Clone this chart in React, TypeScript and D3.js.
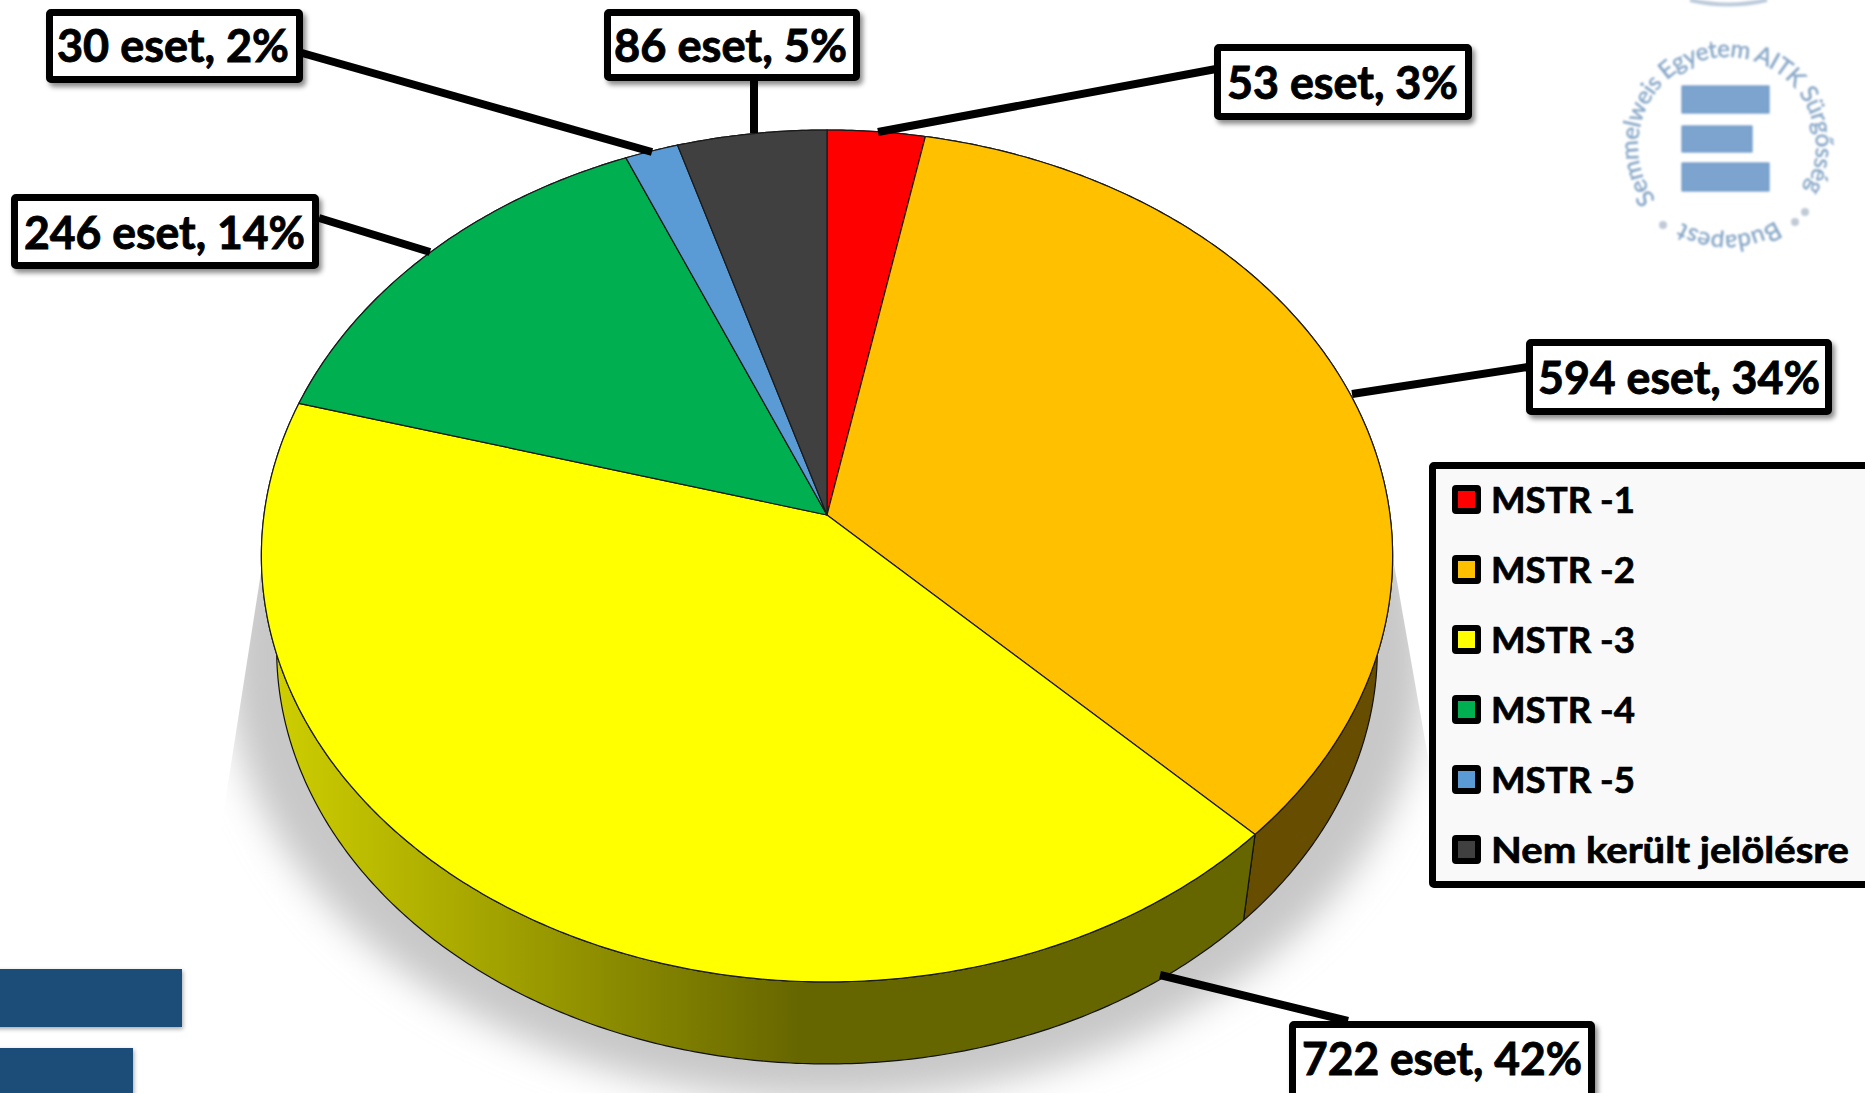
import React, { useEffect } from "react";
import * as d3 from "d3";

// ---- data ----
const categories = ["MSTR -1", "MSTR -2", "MSTR -3", "MSTR -4", "MSTR -5", "Nem került jelölésre"];
const caseCounts = [53, 594, 722, 246, 30, 86];
const percents = [3, 34, 42, 14, 2, 5];
// wedge sizes as measured on the drawn pie (same total as the case counts)
const wedgeShares = [53, 595.5, 725.5, 247, 29, 81];
const sliceColors = ["#ff0000", "#ffc000", "#ffff00", "#00b050", "#5b9bd5", "#404040"];
const sealText = "Semmelweis Egyetem AITK Sürgősség";
const sealTextBottom = "Budapest";

// ---- layout ----
const W = 1865, H = 1093;
const CX = 827, CY = 515;          // projected centre of the disk
const A = 563, B = 422, P = 0.0962; // perspective projection of the unit disk
const VY = 4019;                   // vanishing point of the vertical edges
const S = 0.973;                   // scale of the lower rim towards it

const project = (t: number): [number, number] => {
  const u = Math.sin(t), v = -Math.cos(t);
  const d = 1 - P * v;
  return [CX + (A * u) / d, CY + (B * v) / d];
};
const lower = ([x, y]: [number, number]): [number, number] => [CX + S * (x - CX), VY + S * (y - VY)];
const arcPts = (a: number, b: number): [number, number][] => {
  const n = Math.max(2, Math.ceil((b - a) / 0.01));
  return d3.range(n + 1).map((i) => project(a + ((b - a) * i) / n));
};
const line = d3.line();

const arcs = d3.pie<number>().sort(null).value((d) => d)(wedgeShares);

const calloutLayout = [
  { box: [1214, 44, 258, 76], text: [1227, 231, 99], lead: [[878, 132], [1216, 69]] },
  { box: [1526, 339, 306, 76], text: [1538, 282, 394], lead: [[1352, 394], [1528, 367]] },
  { box: [1289, 1021, 306, 80], text: [1302, 280, 1075], lead: [[1160, 975], [1348, 1021]] },
  { box: [11, 194, 308, 75], text: [24, 281, 249], lead: [[319, 218], [430, 252]] },
  { box: [46, 9, 257, 74], text: [57, 232, 62], lead: [[302, 53], [652, 152]] },
  { box: [604, 9, 256, 72], text: [614, 233, 62], lead: [[754, 81], [754, 133]] },
];
const legendLayout = { x: 1429, y: 462, w: 440, h: 426, mx: 1452, my: 485, ms: 29, step: 70, tx: 1491, base: 513 };
const FONT = "Lato, 'Open Sans', sans-serif";

export default function App() {
  useEffect(() => {
    document.body.style.margin = "0";
    document.body.style.overflow = "hidden";
  }, []);

  const polar = (deg: number, r: number) => {
    const t = (deg * Math.PI) / 180;
    return [1727 + r * Math.sin(t), 146 - r * Math.cos(t)];
  };
  const sealArc = (from: number, to: number, r: number) => {
    const [x0, y0] = polar(from, r), [x1, y1] = polar(to, r);
    return `M${x0},${y0}A${r},${r} 0 ${to - from > 180 ? 1 : 0} 1 ${x1},${y1}`;
  };

  return (
    <svg width={W} height={H} viewBox={`0 0 ${W} ${H}`} style={{ position: "absolute", left: 0, top: 0, display: "block", background: "#fff" }}>
      <defs>
        <filter id="shadowBlur" x="-20%" y="-20%" width="140%" height="140%"><feGaussianBlur stdDeviation="18" /></filter>
        <filter id="soft" x="-10%" y="-10%" width="120%" height="120%"><feGaussianBlur stdDeviation="0.9" /></filter>
        <filter id="barShadow" x="-10%" y="-10%" width="125%" height="130%">
          <feDropShadow dx="1" dy="2" stdDeviation="2" floodColor="#000" floodOpacity="0.35" />
        </filter>
        <filter id="boxShadow" x="-10%" y="-10%" width="125%" height="130%">
          <feDropShadow dx="3" dy="4" stdDeviation="2.5" floodColor="#000" floodOpacity="0.45" />
        </filter>
        <clipPath id="shadowClip">
          <path d="M264,553L224,809L195,1000L195,1093L1480,1093L1470,1000L1428,757L1392,553Z" />
        </clipPath>
        <linearGradient id="yellowSide" gradientUnits="userSpaceOnUse" x1={270} x2={800} y1={0} y2={0}>
          <stop offset="0" stopColor="#cfcf00" />
          <stop offset="1" stopColor="#666600" />
        </linearGradient>
      </defs>

      {/* ground shadow */}
      <g clipPath="url(#shadowClip)">
        <ellipse cx={827} cy={660} rx={600} ry={440} fill="#c8c8c8" filter="url(#shadowBlur)" />
      </g>

      {/* bottom-left logo bars */}
      <g filter="url(#barShadow)">
        <rect x={-10} y={969} width={192} height={58} fill="#1f4e79" />
        <rect x={-10} y={1048} width={143} height={55} fill="#1f4e79" />
      </g>

      {/* side walls */}
      {arcs.map((d, i) => {
        const top = arcPts(d.startAngle, d.endAngle);
        const bottom = top.map(lower).reverse();
        const fill = i === 2 ? "url(#yellowSide)" : d3.color(sliceColors[i])!.darker(1.65).formatHex();
        return <path key={i} d={line([...top, ...bottom])! + "Z"} fill={i === 1 ? "#664d00" : fill} stroke="#111" strokeWidth={1.2} strokeLinejoin="round" />;
      })}

      {/* top faces */}
      {arcs.map((d, i) => (
        <path key={i} d={line([[CX, CY], ...arcPts(d.startAngle, d.endAngle)])! + "Z"} fill={sliceColors[i]} stroke="#1a1a1a" strokeWidth={1.2} strokeLinejoin="round" />
      ))}

      {/* callouts */}
      {calloutLayout.map((c, i) => (
        <path key={i} d={line(c.lead as [number, number][])!} stroke="#000" strokeWidth={8} fill="none" />
      ))}
      {calloutLayout.map((c, i) => (
        <g key={i}>
          <rect x={c.box[0] + 3.5} y={c.box[1] + 3.5} width={c.box[2] - 7} height={c.box[3] - 7} rx={1.5} fill="#fff" stroke="#000" strokeWidth={7} filter="url(#boxShadow)" />
          <text x={c.text[0]} y={c.text[2]} textLength={c.text[1]} lengthAdjust="spacingAndGlyphs" fontFamily={FONT} fontWeight={700} fontSize={45} fill="#000" stroke="#000" strokeWidth={0.9}>
            {`${caseCounts[i]} eset, ${percents[i]}%`}
          </text>
        </g>
      ))}

      {/* legend */}
      <rect x={legendLayout.x + 3.5} y={legendLayout.y + 3.5} width={legendLayout.w} height={legendLayout.h - 7} rx={1.5} fill="#f9f9f9" stroke="#000" strokeWidth={7} />
      {categories.map((c, i) => (
        <g key={i}>
          <rect x={legendLayout.mx + 3} y={legendLayout.my + 3 + i * legendLayout.step} width={legendLayout.ms - 6} height={legendLayout.ms - 6} rx={1} fill={sliceColors[i]} stroke="#000" strokeWidth={6} />
          <text x={legendLayout.tx} y={legendLayout.base + i * legendLayout.step} fontFamily={FONT} fontWeight={700} fontSize={37} textLength={i === 5 ? 358 : 144} lengthAdjust="spacingAndGlyphs" fill="#000" stroke="#000" strokeWidth={0.7}>{c}</text>
        </g>
      ))}

      {/* seal, top right */}
      <g filter="url(#soft)">
        <path d="M1690,0Q1728,9 1767,0" fill="none" stroke="#bccadb" strokeWidth={4} />
        <rect x={1682} y={86} width={87} height={27} fill="#7ba4cf" stroke="#5f8dbd" strokeWidth={1} />
        <rect x={1682} y={126} width={70} height={26} fill="#7ba4cf" stroke="#5f8dbd" strokeWidth={1} />
        <rect x={1682} y={163} width={87} height={28} fill="#7ba4cf" stroke="#5f8dbd" strokeWidth={1} />
        <path id="sealTop" d={sealArc(-127, 119, 89)} fill="none" />
        <path id="sealBottom" d={sealArc(147, 211, 89)} fill="none" />
        <text fontFamily={FONT} fontSize={24} fill="#86a6c6" stroke="#86a6c6" strokeWidth={0.4}>
          <textPath href="#sealTop" textLength={382}>{sealText}</textPath>
        </text>
        <text fontFamily={FONT} fontSize={24} fill="#86a6c6" stroke="#86a6c6" strokeWidth={0.4}>
          <textPath href="#sealBottom" textLength={98}>{sealTextBottom}</textPath>
        </text>
        {[[1805, 212], [1795, 222], [1663, 225]].map(([x, y], i) => (
          <circle key={i} cx={x} cy={y} r={4} fill="#c0cad6" />
        ))}
      </g>
    </svg>
  );
}
